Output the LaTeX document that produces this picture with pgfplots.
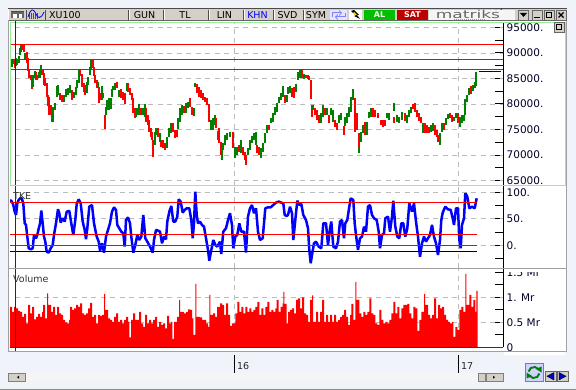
\documentclass[border=0pt]{standalone}
\usepackage{pgfplots}
\pgfplotsset{compat=1.18}
\usepackage{pgfplotstable}
\usepackage{fontspec}
\setmainfont{DejaVu Sans}
\newfontfamily\logof[Kerning=Off,Ligatures=NoCommon]{DejaVu Sans}
\definecolor{tb}{HTML}{D4D0C8}
\definecolor{frm}{HTML}{A0A0A0}
\definecolor{lg}{HTML}{98EE98}
\definecolor{gd}{HTML}{BBBBBB}
\definecolor{cg}{HTML}{008000}
\definecolor{bl}{HTML}{0000FF}
\definecolor{pur}{HTML}{660066}
\definecolor{winbg}{HTML}{F0F3F9}
\pgfplotstableread{
x lo hi
13.3 87870 88790
14.7 87020 88530
22.7 90620 91800
24 90290 91800
26.7 88000 90100
28 86560 88980
29.3 85060 86690
30.7 84730 85710
32 82900 85390
36 84730 86300
37.3 84730 85710
42.7 85710 86690
44 83750 86040
45.3 83560 85060
46.7 81460 84080
48 79630 81790
49.3 77870 81460
50.7 77870 79830
52 76560 78520
60 80810 82120
62 80480 81790
72 80810 82770
80 85520 86690
82 83290 85910
84 82440 84080
85.3 81790 83750
92.7 87020 88660
94 85520 87350
95.3 84080 85710
96.7 83100 84730
99.3 80280 83290
100.7 80810 82120
103.3 81140 82120
104.7 75120 77870
116.7 83100 84410
120.7 81140 82900
122.7 80810 82440
124.7 80020 82120
128 82440 84080
130 81790 83100
132 80810 82120
133.3 78190 81140
134.7 77210 79170
141.3 77870 79170
146 76560 79170
148 75900 77870
149.3 74600 76880
150.7 73610 75250
152 72960 74600
153.3 69690 72960
158 73610 75250
161.3 71650 72960
163.3 71330 72960
165.3 71000 72310
172.7 74600 76230
174.7 73290 74920
176.7 73610 74920
184 78190 79630
190 79500 81140
192 77870 79500
196.7 82120 83950
198.7 81460 83290
200.7 81140 82770
202.7 80810 82120
204.7 80480 81460
206.7 79830 81140
209.3 76560 80020
216 75250 77210
218 72960 74790
219.3 72310 75250
220.7 70020 72630
232.7 71330 74600
238.7 70670 71980
242.7 70020 71650
244.7 69040 70670
246.3 68060 70020
257.3 70340 71980
259.3 70020 71650
269.3 74920 75900
284.7 80150 81790
292 81460 83100
294 81140 83420
302 85060 86830
306 85060 85710
308 84860 85710
309.3 84730 85520
310.7 80940 84730
312 77410 79830
315.3 77870 79170
317.3 76880 78850
319.3 76360 77870
325.3 77870 79170
329.3 76230 77870
335.3 75580 76880
337.3 74920 76230
344 73940 75710
355.3 74600 81140
356.7 74920 78190
358.7 71330 74270
364.7 73940 76560
373.3 77540 79170
375.3 77410 78850
378 77210 78190
380.7 75900 76880
382.7 75580 76880
384.7 75710 76880
394 76360 77540
404.7 76750 78190
413.3 78980 80020
415.3 78520 80150
417.3 77540 78850
419.3 76750 78190
421.3 76360 77540
424.7 74400 76230
426.7 74270 75900
428.7 74400 75580
434.7 73940 75900
436.7 73610 74920
438 72630 73940
444 74920 76360
450 77210 78190
452 76560 77870
458 76230 78190
470.7 81990 83560
}\redc
\pgfplotstableread{
x lo hi
12 87350 88660
16 87480 88980
17.3 87680 88660
18.7 88000 89440
20 89640 90950
21.3 90290 91600
25.3 88790 89960
33.3 83290 85710
34.7 85060 86500
38.7 85060 86370
40 85060 86830
41.3 85710 87680
53.3 76560 79500
54.7 78850 80150
56.7 81460 83560
58 81790 83750
64 80480 81790
66 81460 82900
68 81790 83100
70 82120 83750
74 81140 82440
76 81790 83290
77.3 83100 84730
78.7 84080 86690
86.7 82120 84410
88 83750 85390
90 85710 87350
91.3 86690 88660
98 83290 84410
102 80810 83560
106 77870 79500
107.3 78850 80810
109.3 78850 81140
110.7 78980 81140
112 81460 82900
113.3 82770 83560
114.7 82770 84080
118.7 81460 82770
126.7 82640 84080
136 77540 78850
137.3 77870 79170
139.3 77870 80020
142.7 77870 79170
144.7 77540 80020
154.7 71980 74600
156 73940 75250
160 72630 74270
167.3 71330 73610
168.7 73610 75250
170.7 74270 76230
178 75050 77210
180 76560 79170
182 77870 79830
186 78190 80150
188 79170 80480
194 77670 79170
195.3 83420 84080
210.7 74920 76880
212.7 74920 77210
214.7 75900 77870
222 69040 72440
223.3 71000 72310
225.3 71980 73940
227.3 72960 74270
230 73610 74600
234.7 69360 71650
236.7 70020 71650
240.7 70340 72960
248 70020 71330
250 71000 72960
252 72310 73740
254 72960 74270
256 71980 74600
261.3 69360 71330
263.3 70670 72310
265.3 72310 74270
267.3 74270 75900
271.3 76230 77210
273.3 76560 78190
275.3 77870 79500
277.3 78520 80150
279.3 80150 81460
281.3 80810 82120
282.7 81460 83560
286.7 80480 81790
288 81990 83290
290 82120 83560
296 82440 83950
298 84730 86370
300 85060 86690
304 84860 85910
313.3 78850 79830
321.3 76360 78190
323.3 77540 79830
327.3 77870 79170
331.3 77870 79170
333.3 76560 78850
339.3 76360 77870
341.3 76880 78190
345.3 75710 77540
347.3 76230 78190
349.3 77540 79500
351.3 78520 81460
353.3 80810 82900
359 70340 71330
360.7 72630 74600
362.7 74270 75900
366.7 73940 76560
369.3 77210 78520
371.3 77540 79170
386.7 77210 78190
388.7 76880 78190
394 78720 80150
396.7 76560 77870
399.3 76360 77540
402 76880 78520
406.7 76360 77870
409.3 77540 78850
411.3 78190 79500
422.7 74270 76230
430.7 74600 75900
432.7 74790 76230
440 71980 74270
442 74600 76230
446 75900 77210
448 77010 78060
454 76750 77540
456 77210 78190
460 75580 77540
462 76230 77870
464 76750 77870
465.3 77870 80940
466.7 80480 81790
468.7 81790 83100
472.7 82640 83750
474.7 83100 84410
476.3 83560 86370
}\greenc
\pgfplotstableread{
x v
10 85.5
12 82.4
13.3 76.1
14.7 63.5
16 57.2
17.3 79.2
18.7 85.5
20 88.6
21.7 88.6
23.3 79.2
24.7 41.5
26 38.4
27.3 16.4
28.7 -5.7
30.7 -7.5
32.7 -5.7
34 19.5
36 13.2
37.3 19.5
38.7 31.5
40 41
41.3 65.4
42.7 41.5
44 16.4
45.3 6.9
46.7 -12
48.7 -13.8
50.7 -5.7
52.7 0.6
54 19.5
56 41.5
58 68
59.3 60.4
60.7 42.8
62.7 51
64.7 44.7
66.7 63.5
69.3 64.8
71.3 41.5
73.3 19.5
75.3 47.8
76.7 78
78.7 86.8
80.7 79.2
82.7 44.7
84.7 29
86 11.3
87.3 32
89.3 73
92 76
94 41.5
96.7 16.4
98.7 6.9
100 -10
102 3.8
104 -13.8
106 16.4
108 29
110 41.5
112 63.5
114 71.7
116 66.7
117.3 38.4
119.3 32
121.3 25.8
123.3 22.6
124.7 -2.5
126 47.8
128 52.8
130 41.5
131.3 16.4
133.3 -13.8
135.3 0.6
137.3 19.5
139.3 10
141.3 16.4
143.3 57.2
145.3 13.2
147.3 6.9
150 -2.5
152.7 -13.8
154 10
156 29
158 27.7
160 25.8
162 3.8
164 16.4
166 11.3
167.3 44.7
169.3 63.5
171.3 74.2
173.3 44.7
175.3 44.7
177.3 54.1
178.7 86.8
180.7 82.4
182.7 61.6
184.7 66.7
186.7 69.8
189.3 69.8
191.3 47.8
192.7 13.2
194 41.5
195.3 101.3
196.7 57.2
198 41.5
200 44.7
202 38.4
204 35.2
206 13.2
208 -8.8
209.3 -29
211.3 -8.8
213.3 10
215.3 0.6
217.3 -2.5
220 6.9
221.3 -16.4
223.3 25.8
226 32
228 47.8
230 60.4
232 38.4
233.3 -5.7
235.3 16.4
237.3 19.5
239.3 41.5
241.3 25.8
244 25.8
246 -13.8
248 54.1
250 69.8
252 76
254 60.4
256 69.8
258 25.8
260 10
262.7 13.2
264 41.5
265.3 69.8
268 71.7
270.7 71.7
273.3 76
276 80.5
278.7 82.4
281.3 80.5
283.3 79.2
284.7 57.2
286.7 55.3
288 57.2
290 72.9
292 60.4
293.3 10
295.3 47.8
297.3 84.2
299.3 76
301.3 78
303.3 57.2
306 47.8
308 32
309.3 -8.8
310.7 -34
312 -18.2
314 3.8
316 6.9
318.7 -2.5
321.3 -5.7
323.3 41.5
326 41.5
328 0.6
330 32
331.3 44.7
333.3 -2.5
336 -5.7
338 6.9
340 44.7
342 47.8
344 13.2
345.3 41.5
347.3 47.8
349.3 72.9
350.7 88.6
353.3 85.5
354.7 41.5
356 19.5
358 -8.8
360 13.2
362 16.4
364 35.2
366 25.8
368 72.9
370 76
372 57.2
374 50.9
376.7 47.8
378.7 25.8
380 -5.7
382 19.5
384 22.6
385.3 50.9
388 54.1
390 25.8
392 54.1
393.3 84.2
395.3 35.2
397.3 16.4
399.3 13.2
401.3 41.5
403.3 41.5
405.3 16.4
407.3 32
409.3 79.2
412 63.5
414 79.2
416 44.7
418 16.4
420 -21.4
422 3.8
424 16.4
426 6.9
428 13.2
430 19.5
432 38.4
434 16.4
436 3.8
438 -18.2
440 10
441.3 47.8
442.7 61.6
445.3 72.9
448 67.9
450.7 66.7
452.7 51
454 38.4
456 69.8
458 69.8
459.3 10
460.7 -5.7
462 38.4
464 50.9
465.3 98.2
467.3 91.9
469.3 69.8
472 72.9
474.7 69.8
476.7 88.6
}\tke
\pgfplotstableread{
x v
10 .81
12 .71
14 .81
16 .78
18 .73
20 .71
22 .61
24 .67
26 .48
28 .85
30 .68
32 .81
34 .56
36 .61
38 .67
40 .61
42 .71
43 .85
45 .58
47 1.08
48 .85
49 .85
51 .71
53 .81
55 .65
57 .81
59 .68
61 .65
63 .55
65 .5
67 .48
69 .55
70 .81
72 .75
74 .78
76 .85
78 .81
80 .88
82 .68
84 .65
86 .68
88 .78
90 .89
92 .61
94 .65
96 .48
98 .65
100 .63
102 .65
104 1.07
105 .75
106 .75
108 .58
110 .55
112 .51
114 .61
116 .68
118 .51
120 .55
122 .48
124 .55
126 .61
128 .51
129.3 .2
131 .55
133 .68
135 .55
137 .55
139 .71
141 .48
143 .41
145 .65
147 .48
149 .55
151 .48
153 .55
155 .61
157 .41
159 .51
161 .45
163 .48
165 .38
167 .63
169 .48
171 .51
172.3 .17
174 .51
177 .61
179 .95
180 .71
182 .71
184 .68
186 .71
188 .76
190 .75
192 .58
193.3 .25
195.3 1.27
196.3 .61
197 .61
200 .6
202 .55
204 .55
206 .48
208 .41
209.3 1.05
210.3 .65
211 .65
213 .68
215 .61
217 .81
220 .88
222 .85
224 .65
226 .88
228 .65
230 .43
232 .48
234 .48
235.3 .68
237.3 .91
239.3 .71
241.3 .81
243.3 .68
245.3 .81
247.3 .71
249.3 .78
251.3 .71
253.3 .75
255.3 .81
257.3 .91
259.3 .65
261.3 .78
263.3 .65
265.3 .81
267.3 .91
269.3 .71
271.3 .75
273.3 .71
275.3 .78
276.7 .95
278.7 .71
280.7 .81
282.7 .88
283.3 1.11
284.3 .87
285 .87
286.7 .48
288 .71
290 .75
292 .78
294 .68
296 .95
298 .98
300 .78
302 1.0
304 .68
306 .65
308 .51
310 .95
312 1.04
313 .51
314 .51
316 .71
318 .51
320 .71
322 .95
324 .51
326 .65
328 .51
330 .65
332 .51
334 .65
336 .51
338 .55
340 .61
342 .65
344 .75
346 .61
348 .45
350 .65
351.3 .87
353.3 .55
355.3 1.31
356.3 .95
357.3 .95
359.3 .68
361.3 .61
363.3 .71
365.3 .65
367.3 .71
369.3 .98
371.3 .68
373.3 .65
375.3 .48
377.3 .45
379.3 .75
381.3 .55
383.3 .48
385.3 .51
387.3 .48
389.3 .55
391.3 .68
393.3 .91
395.3 .68
397.3 .81
399.3 .58
401.3 .78
403.3 .85
405.3 .85
407.3 .87
409.3 .68
411.3 .58
413.3 .81
415.3 .78
417.3 .33
419.3 .55
421.3 .71
424 1.07
425 .85
426 .85
428 .65
430 .58
432 .65
434 .98
436 .58
438 .85
440 .78
442 .81
444 .65
446 .55
448 .51
450 .48
452 .51
453.3 .21
455.3 .41
457.3 .35
459.3 .75
461.3 .81
463.3 .71
465.3 1.47
466.3 .85
467.3 .85
469.3 1.05
471.3 .81
473.3 .95
475.3 .71
476.3 1.13
477.5 1.13
}\vol
\pgfplotsset{pane/.style={
  scale only axis, anchor=south west, width=493pt,
  xmin=10, xmax=503, clip=true,
  axis y line*=right, axis x line*=bottom,
  x axis line style={draw=none}, xtick=\empty,
  y axis line style={black,line width=1pt},
  ytick style={black,line width=1pt},
  major tick length=8pt, minor tick length=8pt, tick align=inside,
  yticklabel style={font=\fontsize{10.5}{10.5}\selectfont, text=black!85!blue, anchor=west, inner sep=0pt, xshift=3.5pt},
  gridl/.style={gd,line width=0.9pt,dash pattern=on 5pt off 4.5pt,forget plot},
}}
\begin{document}
\begin{tikzpicture}
\useasboundingbox (0,0) rectangle (576pt,-390pt);
\begin{scope}[x=1pt,y=-1pt]
\fill[winbg] (0,0) rectangle (576,390);
\fill[white] (8,8) rectangle (567,352);
\fill[tb] (8.5,9) rectangle (566.5,20);
\draw[black!70,line width=1pt] (8,8.5) -- (567,8.5);
\draw[black!60,line width=0.8pt] (8,20.5) -- (567,20.5);
\draw[lg,line width=1pt] (10.5,23) rectangle (565.5,186);
\end{scope}
%--- price pane
\begin{axis}[pane, at={(10pt,-186pt)}, height=163pt,
  ymin=63922, ymax=95882,
  ytick={65000,70000,75000,80000,85000,90000,95000},
  yticklabels={65000.,70000.,75000.,80000.,85000.,90000.,95000.},
  minor ytick={67500,72500,77500,82500,87500,92500}]
\foreach \v in {65000,70000,75000,80000,85000,90000,95000}{
  \edef\tmp{\noexpand\addplot[gridl] coordinates {(15,\v)(503,\v)};}\tmp}
\addplot[gridl] coordinates {(234,63922)(234,95882)};
\addplot[gridl] coordinates {(458,63922)(458,95882)};
\addplot[draw=none,mark=none,forget plot,error bars/.cd,y dir=plus,y explicit,error mark=none,
  error bar style={red,line width=2pt}]
  table[x=x,y=lo,y error plus expr=\thisrow{hi}-\thisrow{lo}] {\redc};
\addplot[draw=none,mark=none,forget plot,error bars/.cd,y dir=plus,y explicit,error mark=none,
  error bar style={cg,line width=2pt}]
  table[x=x,y=lo,y error plus expr=\thisrow{hi}-\thisrow{lo}] {\greenc};
\addplot[color=red,line width=1.1pt,forget plot] coordinates {(11,91667)(503,91667)};
\addplot[color=red,line width=1.1pt,forget plot] coordinates {(11,88725)(503,88725)};
\addplot[color=red,line width=1.1pt,forget plot] coordinates {(11,86765)(503,86765)};
\addplot[black!60!blue,line width=1pt,forget plot] coordinates {(479,86300)(501,86300)};
\end{axis}
%--- TKE pane
\begin{axis}[pane, at={(10pt,-268.3pt)}, height=82pt,
  ymin=-43.4, ymax=111.3,
  ytick={0,50,100}, yticklabels={0.,50.,100.},
  minor ytick={-25,25,75}]
\addplot[gridl] coordinates {(15,100)(503,100)};
\addplot[gridl] coordinates {(15,50)(503,50)};
\addplot[gridl] coordinates {(15,0)(503,0)};
\addplot[gridl] coordinates {(234,-43.4)(234,111.3)};
\addplot[gridl] coordinates {(458,-43.4)(458,111.3)};
\addplot[bl,line width=2.5pt,line join=bevel,forget plot] table[x=x,y=v] {\tke};
\addplot[red,line width=0.9pt,forget plot] coordinates {(10,80)(477,80)};
\addplot[red,line width=0.9pt,forget plot] coordinates {(10,20)(477,20)};
\addplot[red,line width=0.9pt,forget plot] coordinates {(10,0)(477,0)};
\addplot[black,line width=0.9pt,forget plot] coordinates {(10,-11)(477,-11)};
\end{axis}
%--- volume pane
\begin{axis}[pane, at={(10pt,-347.3pt)}, height=79pt,
  ymin=0, ymax=1.58,
  ytick={0,0.5,1,1.5}, yticklabels={0,0.5 Mr,1. Mr,1.5 Mr},
  minor ytick={0.25,0.75,1.25}]
\addplot[gridl] coordinates {(15,0.5)(503,0.5)};
\addplot[gridl] coordinates {(15,1)(503,1)};
\addplot[gridl] coordinates {(234,0)(234,1.58)};
\addplot[gridl] coordinates {(458,0)(458,1.58)};
\addplot[const plot mark left,fill=red,draw=none,forget plot] table[x=x,y=v] {\vol} \closedcycle;
\addplot[cg!70!black,line width=1pt,forget plot] coordinates {(10,0)(503,0)};
\end{axis}
%--- window furniture on top
\begin{scope}[x=1pt,y=-1pt]
\fill[white] (504,268.5) rectangle (565,272);
\fill[white] (504,351) rectangle (565,355);
\draw[pur,line width=0.9pt] (15.3,21) -- (15.3,351);
\draw[frm,line width=1pt] (8,268.3) -- (566.5,268.3);
\draw[frm,line width=1pt] (8.5,20) -- (8.5,351.7) -- (566.5,351.7) -- (566.5,20);
\draw[lg,line width=1pt] (10.5,186) -- (565.5,186);
% panel names
\node[anchor=west,inner sep=0pt,font=\fontsize{9.5}{9.5}\selectfont,text=black!80] at (13,196.5) {TKE};
\node[anchor=west,inner sep=0pt,font=\fontsize{9.5}{9.5}\selectfont,text=black!80] at (13,279) {Volume};
% year ticks
\draw[black,line width=0.8pt] (234.5,355) -- (234.5,372.5);
\draw[black,line width=0.8pt] (458.5,355) -- (458.5,372.5);
\node[anchor=west,inner sep=0pt,font=\fontsize{9.5}{9.5}\selectfont,text=black!85] at (237,366) {16};
\node[anchor=west,inner sep=0pt,font=\fontsize{9.5}{9.5}\selectfont,text=black!85] at (461,366) {17};
% scroll bar
\fill[black!4] (8,373) rectangle (503,381);
\fill[tb,draw=black!50,line width=.5pt] (8.5,373.5) rectangle (25,381);
\fill[black] (17,377.2) -- (19,375.7) -- (19,378.7) -- cycle;
\fill[tb,draw=black!50,line width=.5pt] (478,373.5) rectangle (485,381);
\fill[tb,draw=black!50,line width=.5pt] (486,373.5) rectangle (503,381);
\fill[black] (495,377.2) -- (493,375.7) -- (493,378.7) -- cycle;
% refresh and arrows
\fill[blue!18!white,draw=black!50,line width=.5pt] (525,363.5) rectangle (543,381);
\draw[green!50!black,line width=1.9pt] (528.6,371.5) arc (190:320:5.5);
\draw[green!50!black,line width=1.9pt] (539.4,373.5) arc (10:140:5.5);
\fill[green!50!black] (536,369) -- (541.5,366.5) -- (541.5,372.5) -- cycle;
\fill[green!50!black] (532,376) -- (526.5,378.5) -- (526.5,372.5) -- cycle;
\fill[tb,draw=black!60,line width=.5pt] (545,371.5) rectangle (556,381);
\fill[tb,draw=black!60,line width=.5pt] (557,371.5) rectangle (568,381);
\fill[blue!80!black,draw=black] (547,376.2) -- (554,372.5) -- (554,380) -- cycle;
\fill[blue!80!black,draw=black] (566,376.2) -- (559,372.5) -- (559,380) -- cycle;
% bottom edge
\fill[black!45] (0,388.5) rectangle (576,390);
% toolbar buttons
\foreach \a/\b in {128/161,163/207,208/241,243/272,273/302,303/328}{
  \draw[black!70,line width=.8pt] (\a,10) -- (\a,20);
  \draw[white,line width=.8pt] (\a+1,10) -- (\a+1,20);}
\draw[black!70,line width=.8pt] (45,10) -- (45,20);
\draw[black!70,line width=.8pt] (26,10) -- (26,20);
\tikzset{tbt/.style={inner sep=0pt,font=\fontsize{9.5}{9.5}\selectfont}}
\node[tbt,anchor=west] at (49,15.5) {XU100};
\node[tbt] at (144.5,15.5) {GUN};
\node[tbt] at (185,15.5) {TL};
\node[tbt] at (224.5,15.5) {LIN};
\node[tbt,text=blue] at (257.5,15.5) {KHN};
\node[tbt] at (287.5,15.5) {SVD};
\node[tbt] at (316,15.5) {SYM};
% first two icons
\fill[black!60] (11,12) rectangle (24,18);
\fill[white] (13,14) rectangle (17,18);
\fill[white] (19,14) rectangle (22,18);
\draw[red,line width=.6pt] (11,11) -- (24,11);
\foreach \x in {29,31,33,35,37}{\draw[red,line width=.8pt] (\x,13) -- (\x,19);}
\draw[blue,line width=.8pt] (28,17) .. controls (31,8) and (33,8) .. (36,14) .. controls (38,19) and (41,19) .. (44,12);
% icons 3, 4
\fill[blue!10] (330,10) rectangle (347,20);
\draw[blue!50,line width=1pt,->] (332,17) -- (332,13) -- (342,13);
\draw[blue!50,line width=1pt,->] (345,13) -- (345,17) -- (335,17);
\fill[white] (349,10) rectangle (362,20);
\fill[black] (354,10) -- (359,15) -- (357,15) -- (360,19) -- (354,16) -- (356,15.5) -- (351,11) -- cycle;
\fill[yellow!80!orange] (354,12) -- (357,15) -- (355,15) -- (353,13) -- cycle;
% AL / SAT
\fill[green!75!black] (364,10) rectangle (395,20);
\fill[red!75!black] (397,10) rectangle (428,20);
\node[inner sep=0pt,text=white,font=\bfseries\fontsize{8}{8}\selectfont] at (379.5,15) {AL};
\node[inner sep=0pt,text=white,font=\bfseries\fontsize{8}{8}\selectfont] at (412.5,15) {SAT};
% logo
\fill[black!4] (429,10) rectangle (515,20);
\node[inner sep=0pt,text=black!60,xscale=1.55,font=\logof\fontsize{11}{11}\selectfont] at (468,14) {matriks};
\draw[orange,line width=.5pt,dash pattern=on 1pt off 1pt] (454,19.3) -- (485,19.3);
% window buttons
\foreach \a in {518,532,544,556}{
  \fill[tb,draw=black!60,line width=.5pt] (\a,10) rectangle (\a+10,20);}
\fill[black] (520,13) -- (527,13) -- (523.5,17) -- cycle;
\fill[black] (534,17) rectangle (540,18.5);
\draw[black,line width=1pt] (546.5,12.5) rectangle (551.5,17.5);
\draw[black,line width=1.2pt] (558.5,12.5) -- (563.5,17.5) (563.5,12.5) -- (558.5,17.5);
\fill[tb,draw=black!60,line width=.5pt] (554,22.5) rectangle (564,32);
\draw[black,line width=.8pt] (556.5,24.5) rectangle (561.5,29);
\end{scope}
\end{tikzpicture}
\end{document}
